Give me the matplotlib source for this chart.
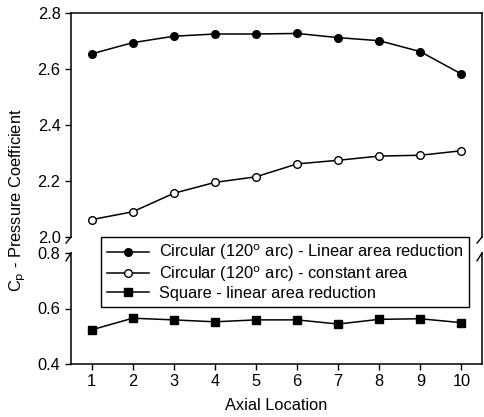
import matplotlib
matplotlib.use("Agg")
import matplotlib.pyplot as plt

plt.rcParams['font.family'] = ['Liberation Sans', 'DejaVu Sans']

axial = [1, 2, 3, 4, 5, 6, 7, 8, 9, 10]
circ_linear = [2.654, 2.694, 2.717, 2.725, 2.725, 2.727, 2.712, 2.701, 2.662, 2.582]
circ_const = [2.062, 2.090, 2.156, 2.195, 2.215, 2.261, 2.274, 2.289, 2.292, 2.308]
square_linear = [0.523, 0.565, 0.559, 0.552, 0.559, 0.559, 0.544, 0.561, 0.563, 0.549]

labels = ["Circular (120$^{\\rm o}$ arc) - Linear area reduction",
          "Circular (120$^{\\rm o}$ arc) - constant area",
          "Square - linear area reduction"]

W, H = 484, 417
fs = 11.8
fig = plt.figure(figsize=(W / 100, H / 100), dpi=100)

left, right = 71 / W, 482 / W
ax_top = fig.add_axes([left, 1 - 237 / H, right - left, (237 - 13) / H])
ax_bot = fig.add_axes([left, 1 - 364 / H, right - left, (364 - 253) / H])

l1, = ax_top.plot(axial, circ_linear, '-o', color='black', lw=1.1,
                  markersize=5.5, markerfacecolor='black')
l2, = ax_top.plot(axial, circ_const, '-o', color='black', lw=1.1,
                  markersize=5.5, markerfacecolor='white')
l3, = ax_bot.plot(axial, square_linear, '-s', color='black', lw=1.1,
                  markersize=5.5, markerfacecolor='black')

ax_top.set_ylim(2.0, 2.8)
ax_top.set_yticks([2.0, 2.2, 2.4, 2.6, 2.8])
ax_bot.set_ylim(0.4, 0.8)
ax_bot.set_yticks([0.4, 0.6, 0.8])

for ax in (ax_top, ax_bot):
    ax.set_xlim(0.5, 10.5)
    ax.tick_params(direction='out', length=4, width=1, labelsize=fs, color='black')
    for s in ax.spines.values():
        s.set_linewidth(1.1)

ax_top.spines['bottom'].set_visible(False)
ax_top.tick_params(axis='x', bottom=False, labelbottom=False)
ax_bot.spines['top'].set_visible(False)
ax_bot.set_xticks(axial)
ax_bot.set_xlabel("Axial Location", fontsize=fs, labelpad=6)

# break marks
kw = dict(color='black', lw=1.0, clip_on=False)
for xa in (0, 1):
    ax_top.plot([xa - 0.012, xa], [-0.027, 0.0], transform=ax_top.transAxes, **kw)
    ax_bot.plot([xa - 0.012, xa], [0.93, 1.0], transform=ax_bot.transAxes, **kw)

fig.text(18 / W, 1 - 200 / H, "C$_{\\rm p}$ - Pressure Coefficient", rotation=90,
         ha='center', va='center', fontsize=fs)

leg = fig.legend([l1, l2, l3], labels, loc='upper left',
                 bbox_to_anchor=(101 / W, 1 - 237 / H), fontsize=fs,
                 fancybox=False, edgecolor='black', framealpha=1,
                 labelspacing=0.12, borderpad=0.35, handlelength=2.6,
                 handletextpad=0.6, borderaxespad=0)
leg.get_frame().set_linewidth(1.0)

fig.savefig("out.png", dpi=100)
